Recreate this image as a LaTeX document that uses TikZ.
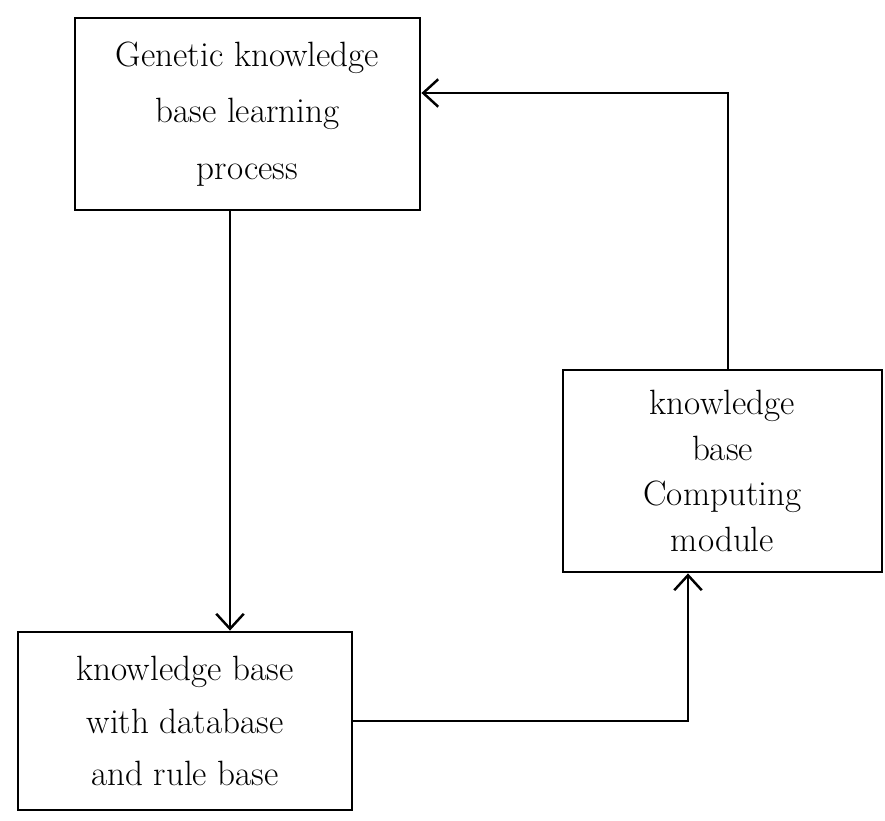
\documentclass[tikz,border=0pt]{standalone}
\usetikzlibrary{arrows.meta}

\begin{document}
\begin{tikzpicture}[
  block/.style={draw, line width=1.6pt, align=center, font=\fontsize{20}{32}\selectfont},
  flow/.style={draw, line width=1.4pt, -{Straight Barb[length=3mm,width=5.5mm,line width=1.4pt]}}
]
\useasboundingbox (0,0) rectangle (17.7,16.4);

\node[block, minimum width=6.9cm, minimum height=3.84cm] (learn) at (4.95,14.12)
  {Genetic knowledge\\base learning\\process};
\node[block, minimum width=6.38cm, minimum height=4.04cm,
  font=\fontsize{20}{26}\selectfont] (comp) at (14.45,6.98)
  {knowledge\\base\\Computing\\module};
\node[block, minimum width=6.68cm, minimum height=3.56cm,
  font=\fontsize{20}{30}\selectfont] (kb) at (3.7,1.98)
  {knowledge base\\with database\\and rule base};

\draw[flow] ([xshift=-3.5mm]learn.south) -- ([xshift=-3.5mm]learn.south |- kb.north);
\draw[flow] (kb.east) -| ([xshift=-6.9mm]comp.south);
\draw[flow] ([xshift=1.1mm]comp.north) |- ([yshift=4.2mm]learn.east);
\end{tikzpicture}
\end{document}
